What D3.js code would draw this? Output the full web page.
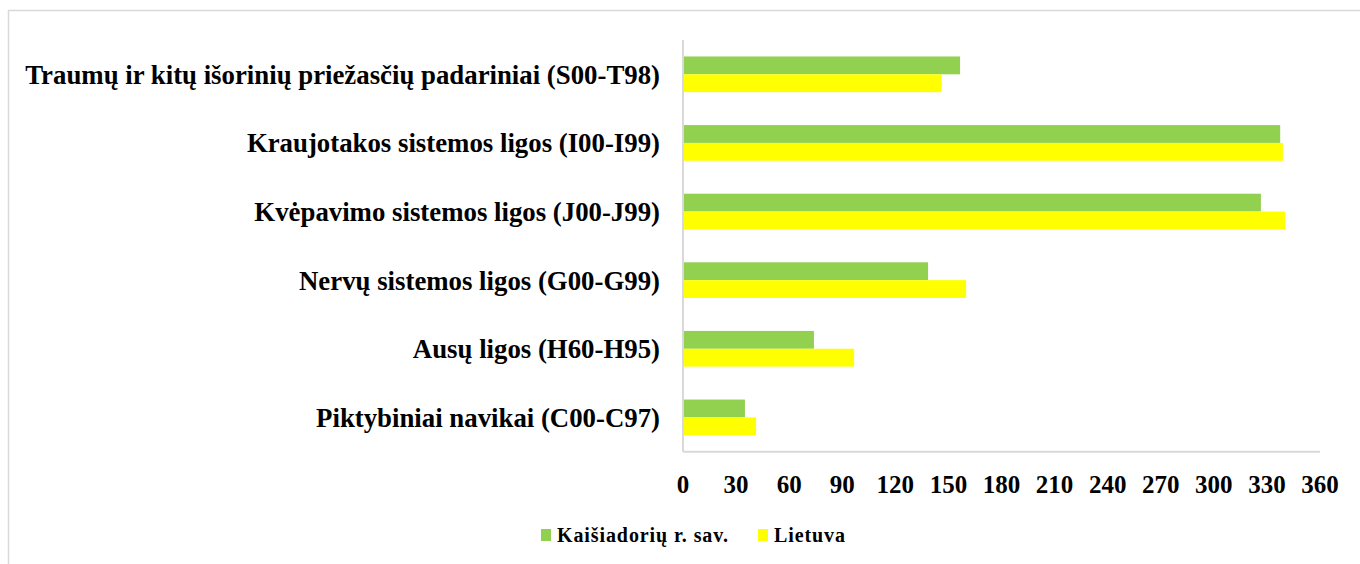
<!DOCTYPE html>
<html>
<head>
<meta charset="utf-8">
<script src="https://cdn.jsdelivr.net/npm/d3@7"></script>
<style>
  body { margin: 0; background: #fff; }
  text { font-family: "Liberation Serif", "Times New Roman", serif; font-weight: bold; fill: #000; }
</style>
</head>
<body>
<svg id="chart" width="1360" height="564"></svg>
<script>
// categories top to bottom
const categories = [
    "Traumų ir kitų išorinių priežasčių padariniai (S00-T98)",
    "Kraujotakos sistemos ligos (I00-I99)",
    "Kvėpavimo sistemos ligos (J00-J99)",
    "Nervų sistemos ligos (G00-G99)",
    "Ausų ligos (H60-H95)",
    "Piktybiniai navikai (C00-C97)"
];
const seriesNames = ["Kaišiadorių r. sav.", "Lietuva"];
const kaisiadorys = [156.6, 337.5, 326.6, 138.5, 74, 35];
const lietuva = [146.2, 339, 340.3, 160, 96.7, 41.3];
const xTicks = [0, 30, 60, 90, 120, 150, 180, 210, 240, 270, 300, 330, 360];
const colors = ["#92d050", "#ffff00"];

const svg = d3.select("#chart");
const margin = { top: 40, left: 683, right: 40, bottom: 112 };
const width = 1320 - margin.left;
const height = 451.7 - margin.top;

// chart frame
svg.append("rect")
    .attr("x", 8.5).attr("y", 10.5)
    .attr("width", 1400).attr("height", 600)
    .attr("fill", "none")
    .attr("stroke", "#d9d9d9")
    .attr("stroke-width", 1.5);

const g = svg.append("g").attr("transform", `translate(${margin.left},${margin.top})`);

const x = d3.scaleLinear().domain([0, 360]).range([0, width]);
const y = d3.scaleBand().domain(categories).range([0, height]).paddingInner(0.48).paddingOuter(0.24);
const ySub = d3.scaleBand().domain(seriesNames).range([0, y.bandwidth()]);

const rows = categories.map((c, i) => ({ cat: c, vals: [kaisiadorys[i], lietuva[i]] }));

const grp = g.selectAll(".cat").data(rows).join("g")
    .attr("class", "cat")
    .attr("transform", d => `translate(0,${y(d.cat)})`);

grp.selectAll("rect")
    .data(d => d.vals.map((v, j) => ({ name: seriesNames[j], v: v, j: j })))
    .join("rect")
    .attr("x", 0)
    .attr("y", d => ySub(d.name))
    .attr("width", d => x(d.v))
    .attr("height", ySub.bandwidth())
    .attr("fill", d => colors[d.j]);

// axes lines
g.append("line")
    .attr("x1", 0).attr("x2", 0).attr("y1", 0).attr("y2", height)
    .attr("stroke", "#d9d9d9").attr("stroke-width", 2);
g.append("line")
    .attr("x1", 0).attr("x2", width).attr("y1", height).attr("y2", height)
    .attr("stroke", "#d9d9d9").attr("stroke-width", 2);

// category labels
g.selectAll(".ylab").data(categories).join("text")
    .attr("class", "ylab")
    .attr("x", -23)
    .attr("y", d => y(d) + y.bandwidth() / 2)
    .attr("dy", "0.35em")
    .attr("text-anchor", "end")
    .style("font-size", "26.8px")
    .text(d => d);

// x tick labels
g.selectAll(".xlab").data(xTicks).join("text")
    .attr("class", "xlab")
    .attr("x", d => x(d))
    .attr("y", height + 41)
    .attr("text-anchor", "middle")
    .style("font-size", "25px")
    .text(d => d);

// legend
const legend = svg.append("g").attr("transform", "translate(541,529)");
const legendX = [0, 217];
seriesNames.forEach((name, i) => {
    const item = legend.append("g").attr("transform", `translate(${legendX[i]},0)`);
    item.append("rect").attr("width", 10).attr("height", 12).attr("fill", colors[i]);
    item.append("text")
        .attr("x", 16).attr("y", 13)
        .style("font-size", "20px")
        .style("letter-spacing", "0.9px")
        .text(name);
});
</script>
</body>
</html>
